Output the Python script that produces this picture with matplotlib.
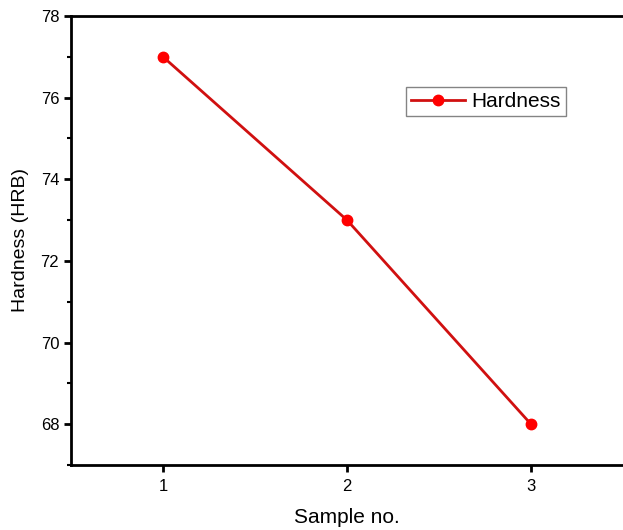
import matplotlib
matplotlib.use("Agg")
import matplotlib.pyplot as plt
from matplotlib.ticker import MultipleLocator

samples = [1, 2, 3]
hardness = [77, 73, 68]

plt.rcParams['font.family'] = ['Liberation Sans', 'DejaVu Sans']

fig = plt.figure(figsize=(6.23, 5.30), dpi=100)
ax = fig.add_axes([71/623, 65/530, 1 - 71/623, (465-16)/530])

ax.plot(samples, hardness, color='#d01010', lw=2, marker='o', ms=7.5,
        mfc='#ff0000', mec='#ff0000', label='Hardness')

ax.set_xlim(0.5, 3.5)
ax.set_ylim(67, 78)
ax.set_xticks(samples)
ax.yaxis.set_major_locator(MultipleLocator(2))
ax.yaxis.set_minor_locator(MultipleLocator(1))

for s in ['left', 'bottom', 'top']:
    ax.spines[s].set_linewidth(2)
ax.spines['right'].set_visible(False)

ax.tick_params(which='major', direction='out', length=5, width=2, labelsize=12, colors='black')
ax.tick_params(which='minor', direction='out', length=3, width=1.5)
ax.tick_params(axis='x', pad=5)
ax.tick_params(axis='y', pad=3.5)

ax.set_xlabel('Sample no.', fontsize=15, labelpad=10)
ax.set_ylabel('Hardness (HRB)', fontsize=14, labelpad=8)

leg = ax.legend(loc='upper left', bbox_to_anchor=(0.607, 0.842), fontsize=15,
                fancybox=False, edgecolor='#666666', handlelength=2.6,
                borderpad=0.25, handletextpad=0.3, borderaxespad=0)
leg.get_frame().set_linewidth(1)

fig.savefig('out.png', dpi=100)
